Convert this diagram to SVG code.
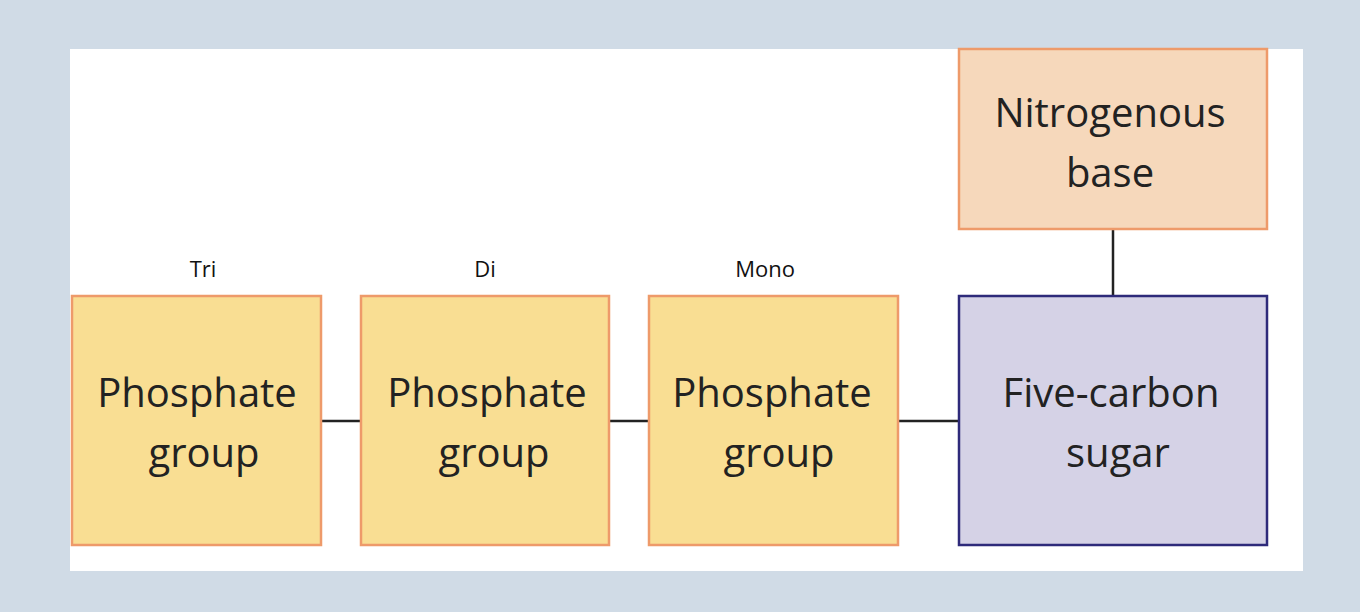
<svg xmlns="http://www.w3.org/2000/svg" width="1360" height="612" viewBox="0 0 1360 612">
<style>
.ph{fill:#f9de93;stroke:#ee9a6a;stroke-width:2.5}
.big{font-family:"Open Sans","Noto Sans",sans-serif;font-size:40px;fill:#222;text-anchor:middle}
.sm{font-family:"Open Sans","Noto Sans",sans-serif;font-size:22px;fill:#111;text-anchor:middle}
.ln{stroke:#222;stroke-width:2.5}
</style>
<rect width="1360" height="612" fill="#d0dbe6"/>
<rect x="70" y="49" width="1233" height="522" fill="#fff"/>
<g id="connectors">
<line class="ln" x1="321" y1="421" x2="361" y2="421"/>
<line class="ln" x1="609" y1="421" x2="649" y2="421"/>
<line class="ln" x1="898" y1="421" x2="959" y2="421"/>
<line class="ln" x1="1113" y1="229" x2="1113" y2="296"/>
</g>
<g id="tri"><text class="sm" x="203" y="277">Tri</text><rect class="ph" x="72" y="296" width="249" height="249"/><text class="big" x="197" y="407">Phosphate</text><text class="big" x="204" y="467">group</text></g>
<g id="di"><text class="sm" x="485" y="277">Di</text><rect class="ph" x="361" y="296" width="248" height="249"/><text class="big" x="487" y="407">Phosphate</text><text class="big" x="494" y="467">group</text></g>
<g id="mono"><text class="sm" x="765" y="277">Mono</text><rect class="ph" x="649" y="296" width="249" height="249"/><text class="big" x="772" y="407">Phosphate</text><text class="big" x="779" y="467">group</text></g>
<g id="sugar"><rect x="959" y="296" width="308" height="249" fill="#d5d2e6" stroke="#2e2a7a" stroke-width="2.5"/><text class="big" x="1111" y="407">Five-carbon</text><text class="big" x="1118" y="467">sugar</text></g>
<g id="base"><rect x="959" y="49" width="308" height="180" fill="#f6d8bb" stroke="#ee9a6a" stroke-width="2.5"/><text class="big" x="1110" y="127">Nitrogenous</text><text class="big" x="1110" y="187">base</text></g>
</svg>
